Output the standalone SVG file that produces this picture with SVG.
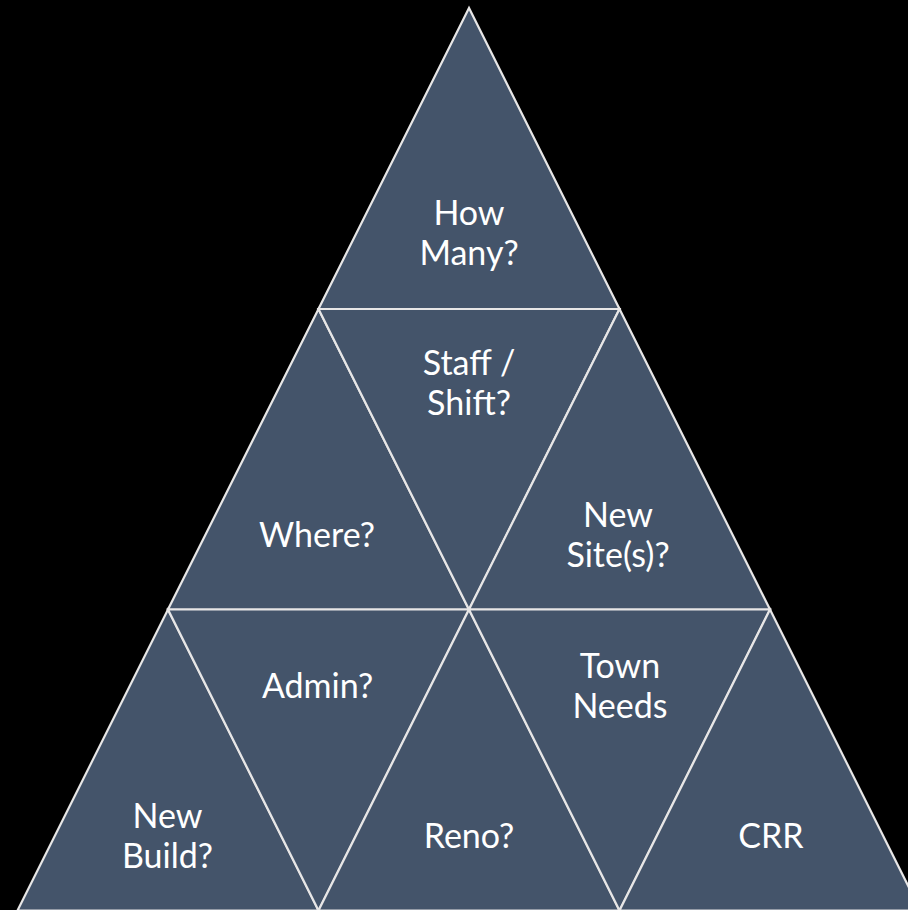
<svg xmlns="http://www.w3.org/2000/svg" width="908" height="910" viewBox="0 0 908 910">
  <style>
    .tri { fill: #44546A; stroke: #E7E6E6; stroke-width: 2.2; stroke-linejoin: miter; }
    .lbl { fill: #FFFFFF; font-family: "Lato", "Open Sans", "Liberation Sans", sans-serif; font-size: 34px; text-anchor: middle; }
  </style>
  <rect x="0" y="0" width="908" height="910" fill="#000000"/>

  <!-- Top tier -->
  <g id="how-many">
    <polygon class="tri" points="469,8 318.5,309 619.5,309"/>
    <text class="lbl" x="469" y="225">How</text>
    <text class="lbl" x="469" y="265">Many?</text>
  </g>

  <!-- Middle tier -->
  <g id="where">
    <polygon class="tri" points="318.5,309 168,609.5 469,609.5"/>
    <text class="lbl" x="317" y="547">Where?</text>
  </g>
  <g id="staff-shift">
    <polygon class="tri" points="318.5,309 619.5,309 469,609.5"/>
    <text class="lbl" x="469" y="375">Staff /</text>
    <text class="lbl" x="469" y="415">Shift?</text>
  </g>
  <g id="new-sites">
    <polygon class="tri" points="619.5,309 469,609.5 770,609.5"/>
    <text class="lbl" x="618" y="527">New</text>
    <text class="lbl" x="618" y="567">Site(s)?</text>
  </g>

  <!-- Bottom tier -->
  <g id="new-build">
    <polygon class="tri" points="168,609.5 17.5,910.5 318.5,910.5"/>
    <text class="lbl" x="167.5" y="828">New</text>
    <text class="lbl" x="167.5" y="868">Build?</text>
  </g>
  <g id="admin">
    <polygon class="tri" points="168,609.5 469,609.5 318.5,910.5"/>
    <text class="lbl" x="317.5" y="698">Admin?</text>
  </g>
  <g id="reno">
    <polygon class="tri" points="469,609.5 318.5,910.5 619.5,910.5"/>
    <text class="lbl" x="469" y="848">Reno?</text>
  </g>
  <g id="town-needs">
    <polygon class="tri" points="469,609.5 770,609.5 619.5,910.5"/>
    <text class="lbl" x="620" y="678">Town</text>
    <text class="lbl" x="620" y="718">Needs</text>
  </g>
  <g id="crr">
    <polygon class="tri" points="770,609.5 619.5,910.5 920.5,910.5"/>
    <text class="lbl" x="771" y="848">CRR</text>
  </g>

  <!-- Dividers are drawn as the triangle outlines above -->
  <g id="connectors"></g>
</svg>
